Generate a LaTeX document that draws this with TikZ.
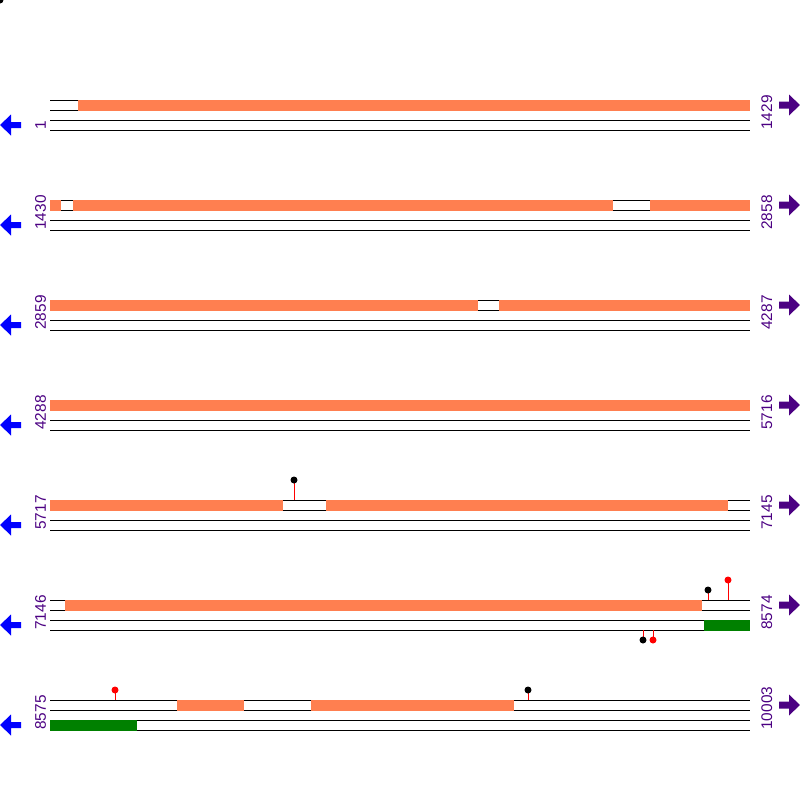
\documentclass[tikz,border=0pt]{standalone}
\usepackage{fontspec}
\setmainfont{Liberation Sans}
\usepackage{tikz}

\definecolor{cdscol}{RGB}{255,127,80}
\definecolor{rnacol}{RGB}{0,128,0}
\definecolor{poscol}{RGB}{75,0,130}

\begin{document}
\begin{tikzpicture}[x=0.5pt, y=-0.5pt,
    strand/.style={line width=0.5pt},
    cds/.style={fill=cdscol},
    rna/.style={fill=rnacol},
    stick/.style={red, line width=0.5pt},
    poslabel/.style={text=poscol, rotate=90, anchor=base west, inner sep=0pt,
        font=\fontsize{7.7}{9}\selectfont}]
            \useasboundingbox (0, 0) rectangle (800, 800);
            \fill (0, 0) circle (3.5);

            \foreach \r/\a/\b in {1/1/1429, 2/1430/2858, 3/2859/4287, 4/4288/5716,
                    5/5717/7145, 6/7146/8574, 7/8575/10003} {
                \pgfmathsetmacro{\t}{100*\r}
                \draw[strand] (50, \t) -- (750, \t);
                \draw[strand] (50, \t+10) -- (750, \t+10);
                \draw[strand] (50, \t+20) -- (750, \t+20);
                \draw[strand] (50, \t+30) -- (750, \t+30);
                \node[poslabel] (start\r) at (46, \t+30) {\a};
                \node[poslabel] (end\r) at (772, \t+30) {\b};
                \fill[blue] (0, \t+25) -- (11, \t+14.5) -- (11, \t+22) -- (21, \t+22)
                    -- (21, \t+28) -- (11, \t+28) -- (11, \t+35.5) -- cycle;
                \fill[poscol] (800, \t+5) -- (789, \t-5.5) -- (789, \t+1.5) -- (779, \t+1.5)
                    -- (779, \t+8.5) -- (789, \t+8.5) -- (789, \t+15.5) -- cycle;
            }

            \fill[cds] (78, 99.5) rectangle (750, 110.5);

            \fill[cds] (50, 199.5) rectangle (61, 210.5);
            \fill[cds] (73, 199.5) rectangle (613, 210.5);
            \fill[cds] (650, 199.5) rectangle (750, 210.5);

            \fill[cds] (50, 299.5) rectangle (478, 310.5);
            \fill[cds] (499, 299.5) rectangle (750, 310.5);

            \fill[cds] (50, 399.5) rectangle (750, 410.5);

            \fill[cds] (50, 499.5) rectangle (283, 510.5);
            \fill[cds] (326, 499.5) rectangle (728, 510.5);
            \draw[stick] (294, 500) -- (294, 480);
            \fill (294, 480) circle (3.5);

            \fill[cds] (65, 599.5) rectangle (702, 610.5);
            \fill[rna] (704, 619.5) rectangle (750, 630.5);
            \draw[stick] (708, 600) -- (708, 590);
            \fill (708, 590) circle (3.5);
            \draw[stick] (728, 600) -- (728, 580);
            \fill[red] (728, 580) circle (3.5);
            \draw[stick] (643, 630) -- (643, 640);
            \fill (643, 640) circle (3.5);
            \draw[stick] (653, 630) -- (653, 640);
            \fill[red] (653, 640) circle (3.5);

            \fill[cds] (177, 699.5) rectangle (244, 710.5);
            \fill[cds] (311, 699.5) rectangle (514, 710.5);
            \fill[rna] (50, 719.5) rectangle (137, 730.5);
            \draw[stick] (115, 700) -- (115, 690);
            \fill[red] (115, 690) circle (3.5);
            \draw[stick] (528, 700) -- (528, 690);
            \fill (528, 690) circle (3.5);
\end{tikzpicture}
\end{document}
